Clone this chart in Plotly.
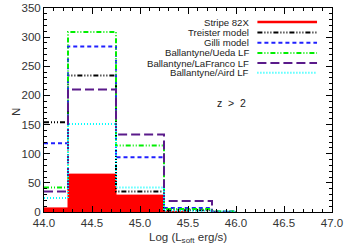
import plotly.graph_objects as go

# Data
edges = [44.0, 44.25, 44.75, 45.25, 45.75, 46.0]
red_edges = [44.0, 44.25, 44.75, 45.25, 45.5]
stripe82x = [7, 65, 29, 1]
treister = [154, 234, 35, 3, 0.5]
gilli = [118, 284, 94, 7, 1]
ueda = [42, 309, 114, 5, 1]
lafranco = [35, 210, 133, 19, 0]
aird = [24, 151, 42, 2, 1]

names = ["Stripe 82X", "Treister model", "Gilli model", "Ballantyne/Ueda LF",
         "Ballantyne/LaFranco LF", "Ballantyne/Aird LF"]
colors = ["#ff0000", "#000000", "#2020ff", "#00ee00", "#5a1a8a", "#00ffff"]
dashes = ["solid", "5px,2px,1px,2px,1px,2px,1px,2px", "4px,3px",
          "5px,2px,1px,2px,1px,2px", "9px,4px", "1px,2px"]

FONT = "Liberation Sans"

fig = go.Figure()
fig.add_trace(go.Scatter(x=red_edges, y=stripe82x + [0], mode="lines", line_shape="hv",
                         line=dict(color=colors[0], width=1), fill="tozeroy",
                         fillcolor=colors[0], showlegend=False))
series = [treister, gilli, ueda, lafranco, aird]
for i, s in enumerate(series, start=1):
    fig.add_trace(go.Scatter(x=edges, y=s + [0], mode="lines", line_shape="hv",
                             line=dict(color=colors[i], width=2, dash=dashes[i]),
                             showlegend=False))

# manual legend (text right-aligned, sample on the right)
rows = [0.931, 0.880, 0.830, 0.780, 0.730, 0.682]
for i, n in enumerate(names):
    fig.add_annotation(x=0.717, y=rows[i], xref="paper", yref="paper", text=n,
                       showarrow=False, xanchor="right", yanchor="middle",
                       borderpad=0,
                       font=dict(size=9.6, color="#222222", family=FONT))
    fig.add_shape(type="line", xref="paper", yref="paper", x0=0.741, x1=0.948,
                  y0=rows[i], y1=rows[i],
                  line=dict(color=colors[i], width=2.5 if i == 0 else 2, dash=dashes[i]))

fig.add_annotation(x=0.709, y=0.533, xref="paper", yref="paper", text="z  >  2",
                   showarrow=False, font=dict(size=10.5, color="#222222", family=FONT))

# axis titles as annotations
fig.add_annotation(x=0.5, y=-0.128, xref="paper", yref="paper",
                   text="Log (L<sub>soft</sub> erg/s)", showarrow=False,
                   yanchor="middle", font=dict(size=11.5, color="#333333", family=FONT))
fig.add_annotation(x=-0.125, y=0.49, xref="paper", yref="paper", text="N",
                   showarrow=False, textangle=-90,
                   font=dict(size=11.5, color="#333333", family=FONT))

axis_common = dict(showline=True, linecolor="black", linewidth=1, mirror="allticks",
                   ticks="inside", ticklen=6, tickcolor="black", showgrid=False,
                   zeroline=False, ticklabeloverflow="allow",
                   tickfont=dict(size=11.5, color="#333333", family=FONT))
fig.update_xaxes(range=[44, 47], dtick=0.5, tickformat=".1f",
                 minor=dict(dtick=0.1, ticks="inside", ticklen=3, tickcolor="black"),
                 **axis_common)
fig.update_yaxes(range=[0, 350], dtick=50,
                 minor=dict(dtick=10, ticks="inside", ticklen=3, tickcolor="black"),
                 **axis_common)
fig.update_layout(width=345, height=248, margin=dict(l=44, r=12, t=2, b=36),
                  plot_bgcolor="white", paper_bgcolor="white")
fig.write_html("out.html", config={"displayModeBar": False},
               post_script="document.body.style.margin='0';document.body.style.overflow='hidden';")
